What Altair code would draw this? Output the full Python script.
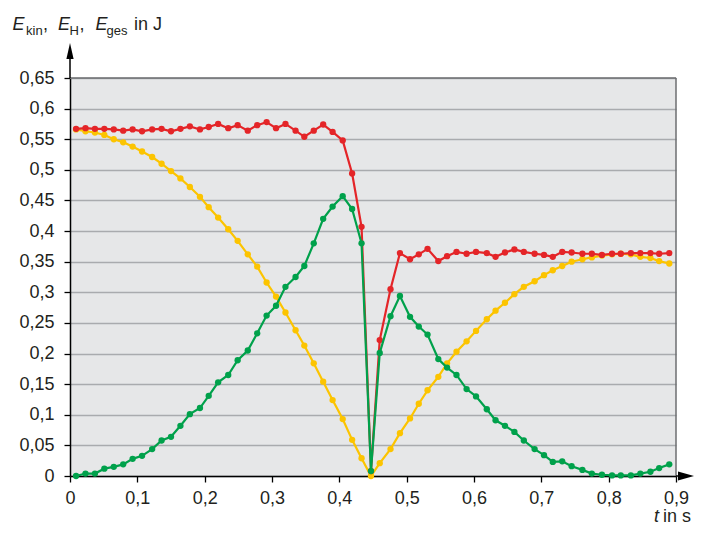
import altair as alt
import pandas as pd

# time stamps (s)
t = [0.009, 0.023, 0.037, 0.051, 0.065, 0.079, 0.093, 0.107, 0.122, 0.136,
     0.150, 0.164, 0.178, 0.193, 0.206, 0.220, 0.235, 0.249, 0.264, 0.278,
     0.292, 0.306, 0.320, 0.335, 0.348, 0.362, 0.376, 0.390, 0.405, 0.419,
     0.433, 0.447, 0.460, 0.476, 0.490, 0.505, 0.518, 0.531, 0.547, 0.560,
     0.574, 0.589, 0.603, 0.619, 0.632, 0.646, 0.660, 0.674, 0.690, 0.704,
     0.717, 0.731, 0.745, 0.761, 0.775, 0.790, 0.805, 0.818, 0.833, 0.847,
     0.862, 0.875, 0.890]

# E_ges (red)
e_ges = [0.567, 0.568, 0.567, 0.567, 0.566, 0.564, 0.566, 0.563, 0.566, 0.567,
         0.563, 0.567, 0.571, 0.566, 0.570, 0.575, 0.568, 0.573, 0.564, 0.573,
         0.578, 0.568, 0.575, 0.564, 0.554, 0.564, 0.574, 0.562, 0.548, 0.494,
         0.407, 0.008, 0.222, 0.305, 0.364, 0.354, 0.362, 0.371, 0.351, 0.359,
         0.366, 0.363, 0.366, 0.364, 0.358, 0.365, 0.370, 0.366, 0.363, 0.361,
         0.358, 0.366, 0.365, 0.363, 0.363, 0.361, 0.363, 0.363, 0.364, 0.364,
         0.364, 0.363, 0.364]

# E_H (yellow)
e_h = [0.566, 0.563, 0.561, 0.557, 0.550, 0.545, 0.538, 0.530, 0.521, 0.510,
       0.498, 0.486, 0.472, 0.456, 0.439, 0.422, 0.403, 0.384, 0.362, 0.342,
       0.316, 0.293, 0.267, 0.238, 0.213, 0.184, 0.154, 0.124, 0.093, 0.059,
       0.029, 0.000, 0.021, 0.044, 0.070, 0.094, 0.118, 0.140, 0.162, 0.184,
       0.203, 0.220, 0.237, 0.256, 0.270, 0.283, 0.297, 0.309, 0.318, 0.328,
       0.336, 0.343, 0.350, 0.354, 0.357, 0.360, 0.362, 0.363, 0.362, 0.358,
       0.356, 0.351, 0.347]

# E_kin (green)
e_kin = [0.000, 0.004, 0.004, 0.012, 0.015, 0.019, 0.028, 0.033, 0.044, 0.058,
         0.064, 0.082, 0.101, 0.111, 0.131, 0.153, 0.165, 0.189, 0.205, 0.233,
         0.262, 0.278, 0.309, 0.325, 0.343, 0.380, 0.420, 0.440, 0.457, 0.436,
         0.380, 0.008, 0.201, 0.261, 0.294, 0.260, 0.244, 0.231, 0.191, 0.177,
         0.165, 0.142, 0.130, 0.109, 0.091, 0.082, 0.072, 0.058, 0.044, 0.034,
         0.023, 0.024, 0.016, 0.010, 0.004, 0.002, 0.001, 0.001, 0.001, 0.004,
         0.007, 0.013, 0.019]

x_ticks = [0, 0.1, 0.2, 0.3, 0.4, 0.5, 0.6, 0.7, 0.8, 0.9]
y_ticks = [0, 0.05, 0.1, 0.15, 0.2, 0.25, 0.3, 0.35, 0.4, 0.45, 0.5, 0.55, 0.6, 0.65]

FONT = "Liberation Sans"
TXT = "#231f20"
RED = "#e42528"
YEL = "#fcc400"
GRN = "#00a14b"
W, H = 606, 398

xaxis = alt.Axis(values=x_ticks, format=".1~f", labelExpr="replace(datum.label, '.', ',')",
                 grid=False, title=None, domainColor="black", domainWidth=1.5,
                 tickColor="black", tickSize=6, tickWidth=1.3, labelFont=FONT,
                 labelFontSize=18, labelColor=TXT, labelPadding=7, labelFlush=False,
                 labelOverlap=False, labelBound=False)
yaxis = alt.Axis(values=y_ticks, format=".2~f", labelExpr="replace(datum.label, '.', ',')",
                 grid=True, gridColor="#a9abae", gridWidth=1.5, title=None,
                 domainColor="black", domainWidth=1.5, tickColor="black", tickSize=6,
                 tickWidth=1.3, labelFont=FONT, labelFontSize=18, labelColor=TXT,
                 labelPadding=10, labelOverlap=False, labelBound=False)

xs = alt.Scale(domain=[0, 0.9], nice=False, zero=False)
ys = alt.Scale(domain=[0, 0.65], nice=False)


def series(vals, color):
    d = pd.DataFrame({"t": t, "E": vals})
    return alt.Chart(d).mark_line(
        color=color, strokeWidth=2.2,
        point=alt.OverlayMarkDef(filled=True, size=40, color=color, opacity=1)
    ).encode(x=alt.X("t:Q", scale=xs, axis=xaxis), y=alt.Y("E:Q", scale=ys, axis=yaxis))


dummy = pd.DataFrame({"d": [0]})


def txt(s, x, y, size, italic=False, align="left"):
    return alt.Chart(dummy).mark_text(
        text=s, font=FONT, fontSize=size, fontStyle="italic" if italic else "normal",
        align=align, baseline="alphabetic", color=TXT
    ).encode(x=alt.value(x), y=alt.value(y))


def rule(x1, x2, y1, y2, color, w):
    return alt.Chart(dummy).mark_rule(color=color, strokeWidth=w).encode(
        x=alt.value(x1), x2=alt.value(x2), y=alt.value(y1), y2=alt.value(y2))


arrow_up = alt.Chart(dummy).mark_point(
    shape="M0,-1L0.45,1L-0.45,1Z", size=256, filled=True, color="black", opacity=1
).encode(x=alt.value(0), y=alt.value(-27))
arrow_right = alt.Chart(dummy).mark_point(
    shape="M1,0L-1,-0.55L-1,0.55Z", size=256, filled=True, color="black", opacity=1
).encode(x=alt.value(W + 10), y=alt.value(H))

layers = [
    series(e_h, YEL),
    series(e_ges, RED),
    series(e_kin, GRN),
    rule(0, W, 0, 0, "#6d6e71", 1.5),
    rule(W, W, 0, H, "#6d6e71", 1.5),
    rule(0, 0, -22, 0, "black", 1.5),
    rule(W, W + 4, H, H, "black", 1.5),
    arrow_up,
    arrow_right,
    # y title: E_kin, E_H, E_ges in J
    txt("E", -57.5, -48, 18, italic=True),
    txt("kin", -44, -43.5, 13),
    txt(",", -27, -48, 18),
    txt("E", -12, -48, 18, italic=True),
    txt("H", -0.5, -43.5, 13),
    txt(",", 9.5, -48, 18),
    txt("E", 25.5, -48, 18, italic=True),
    txt("ges", 36.5, -43.5, 13),
    txt("in J", 64, -48, 18),
    # x title: t in s
    txt("t", W - 17, H + 46, 18, italic=True, align="right"),
    txt(" in s", W + 15, H + 46, 18, align="right"),
]

chart = alt.layer(*layers).properties(
    width=W, height=H,
    autosize=alt.AutoSizeParams(type="none"),
    padding={"left": 62, "top": 70, "right": 18, "bottom": 53},
).configure_view(fill="#e6e7e8", stroke=None)

chart.save("out.html", embed_options={"renderer": "svg", "actions": False})
